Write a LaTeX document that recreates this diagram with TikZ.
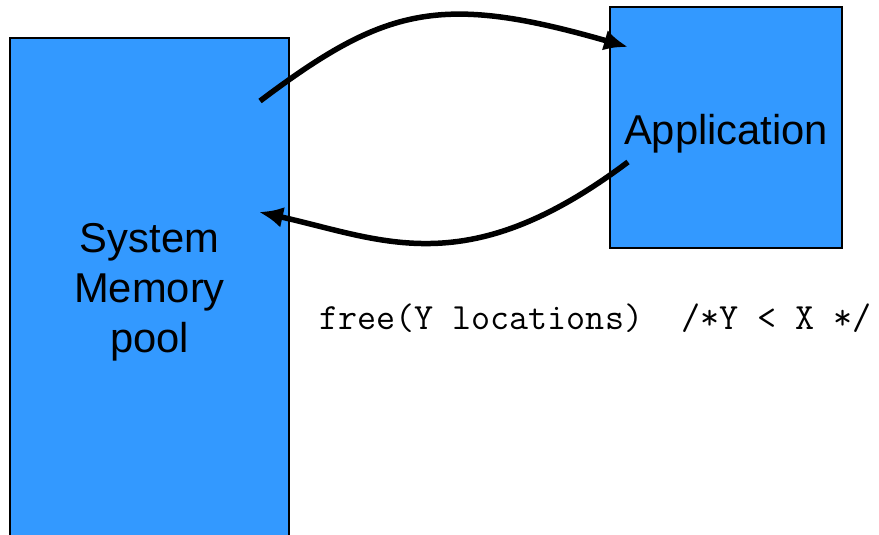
\documentclass[tikz,border=0pt]{standalone}
\usepackage{fontspec}
\setmainfont{Liberation Sans}
\usetikzlibrary{arrows.meta}
\definecolor{boxblue}{HTML}{3399FF}
\begin{document}
\begin{tikzpicture}[x=1pt,y=-1pt,
  bluebox/.style={draw=black,line width=2pt,fill=boxblue,inner sep=0pt,align=center,
    font=\fontsize{41.7}{50}\selectfont},
  flow/.style={line width=5.5pt,-{Latex[length=24pt,width=21pt]}}]
\useasboundingbox (0,0) rectangle (879,535);
\node[bluebox,minimum width=279pt,minimum height=508pt] (sys) at (149.5,292) {System\\Memory\\pool};
\node[bluebox,minimum width=232pt,minimum height=241pt] (app) at (726,127.5) {};
\node[font=\fontsize{41.7}{50}\selectfont,inner sep=0pt] (applabel) at (726,134) {Application};
\node[font=\ttfamily\fontsize{37}{42}\selectfont,anchor=base west,inner sep=0pt] (code) at (319,329) {free(Y locations)\ \ /*Y < X */};
\coordinate (s1) at (260,101);
\coordinate (e1) at (628,47);
\coordinate (s2) at (628,162);
\coordinate (e2) at (259,212);
\draw[flow] (s1) .. controls (385,7) and (440,-7) .. (e1);
\draw[flow] (s2) .. controls (467,283) and (384,240) .. (e2);
\end{tikzpicture}
\end{document}
